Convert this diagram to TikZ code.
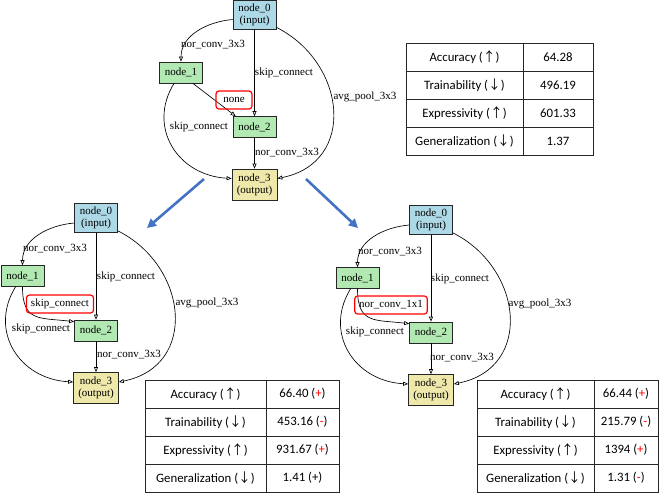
\documentclass[tikz,border=0pt]{standalone}
\usepackage{fontspec}
\setmainfont{Liberation Serif}
\newfontfamily\tabfont{Carlito}
\newfontfamily\cjk{Noto Sans CJK SC}
\usetikzlibrary{arrows.meta}

\definecolor{inblue}{HTML}{ADD8E6}
\definecolor{midgreen}{HTML}{B2E8B2}
\definecolor{outyellow}{HTML}{EEE8AA}
\definecolor{pushblue}{HTML}{4472C4}

\tikzset{
  cell/.style={draw=black!85, line width=0.7pt, inner sep=0pt, align=center, font=\fontsize{11}{12}\selectfont},
  innode/.style={cell, fill=inblue, minimum width=43pt, minimum height=29pt},
  midnode/.style={cell, fill=midgreen, minimum width=43pt, minimum height=21pt},
  outnode/.style={cell, fill=outyellow, minimum width=45pt, minimum height=31pt},
  op/.style={inner sep=1pt, font=\fontsize{11}{12}\selectfont},
  changed/.style={op, draw=red, line width=1.2pt, rounded corners=3pt, inner xsep=4.5pt, minimum height=18pt},
  edge/.style={line width=0.65pt, -{Triangle[open,length=5pt,width=4pt]}},
  push/.style={pushblue, line width=2.6pt, -{Triangle[length=9pt,width=9pt]}},
  score/.style={font=\tabfont\fontsize{12.8}{14}\selectfont, inner sep=0pt},
  grid line/.style={draw=black!85, line width=0.8pt}
}

% #1 name, #2 origin, #3 #4 column widths, #5-#8 values
\newcommand\scoretable[8]{%
  \begin{scope}[shift={#2}]
    \draw[grid line] (0,0) rectangle (#3+#4,112);
    \draw[grid line] (#3,0) -- (#3,112);
    \foreach \r in {28,56,84} \draw[grid line] (0,\r) -- (#3+#4,\r);
    \node[score] (#1acc) at (#3/2,14) {Accuracy ({\cjk ↑})};
    \node[score] (#1tra) at (#3/2,42) {Trainability ({\cjk ↓})};
    \node[score] (#1exp) at (#3/2,70) {Expressivity ({\cjk ↑})};
    \node[score] (#1gen) at (#3/2,98) {Generalization ({\cjk ↓})};
    \node[score] (#1accv) at (#3+#4/2,14) {#5};
    \node[score] (#1trav) at (#3+#4/2,42) {#6};
    \node[score] (#1expv) at (#3+#4/2,70) {#7};
    \node[score] (#1genv) at (#3+#4/2,98) {#8};
  \end{scope}}

\newcommand\up{(\textcolor{red}{+})}
\newcommand\down{(\textcolor{red}{-})}

\begin{document}
\begin{tikzpicture}[x=1pt,y=-1pt]
  \useasboundingbox (0,0) rectangle (660,496);

  % original cell
  \begin{scope}[shift={(254.5,14.5)}]
    \node[innode] (a0) at (0,0) {node\_0\\(input)};
    \node[midnode] (a1) at (-73.5,58) {node\_1};
    \node[midnode] (a2) at (0,112.5) {node\_2};
    \node[outnode] (a3) at (0,170) {node\_3\\(output)};
    \draw[edge] ([yshift=-5pt]a0.west) to[out=185,in=90] (a1.north);
    \draw[edge] (a0) -- (a2);
    \draw[edge] ([yshift=2pt]a0.south east) .. controls +(70,35) and +(80,-16) .. ([yshift=6pt]a3.east);
    \draw[edge] ([xshift=-10pt]a1.south east) -- ([xshift=3pt]a2.north west);
    \draw[edge] ([xshift=-7pt]a1.south) .. controls +(-27,44) and +(-54,-3) .. ([yshift=6pt]a3.west);
    \draw[edge] (a2) -- (a3);
    \node[op] (a01) at (-41.5,30.5) {nor\_conv\_3x3};
    \node[op] (a02) at (29.5,58.5) {skip\_connect};
    \node[op] (a03) at (110.5,82.5) {avg\_pool\_3x3};
    \node[changed, minimum width=36pt] (a12) at (-20.5,85.5) {none};
    \node[op] (a13) at (-55.5,112.5) {skip\_connect};
    \node[op] (a23) at (32.5,138.5) {nor\_conv\_3x3};
  \end{scope}

  % left mutation
  \begin{scope}[shift={(96,218)}]
    \node[innode] (b0) at (0,0) {node\_0\\(input)};
    \node[midnode] (b1) at (-73.5,58) {node\_1};
    \node[midnode] (b2) at (0,112.5) {node\_2};
    \node[outnode] (b3) at (0,170) {node\_3\\(output)};
    \draw[edge] ([yshift=-5pt]b0.west) to[out=185,in=90] (b1.north);
    \draw[edge] (b0) -- (b2);
    \draw[edge] ([yshift=2pt]b0.south east) .. controls +(70,35) and +(80,-16) .. ([yshift=6pt]b3.east);
    \draw[edge] (b1.south) .. controls +(0,35) and +(-35,-4) .. ([yshift=-2pt]b2.north west);
    \draw[edge] ([xshift=-7pt]b1.south) .. controls +(-27,44) and +(-54,-3) .. ([yshift=6pt]b3.west);
    \draw[edge] (b2) -- (b3);
    \node[op] (b01) at (-41,31) {nor\_conv\_3x3};
    \node[op] (b02) at (30,59) {skip\_connect};
    \node[op] (b03) at (111,85) {avg\_pool\_3x3};
    \node[changed] (b12) at (-36,86) {skip\_connect};
    \node[op] (b13) at (-55,111) {skip\_connect};
    \node[op] (b23) at (33,137) {nor\_conv\_3x3};
  \end{scope}

  % right mutation
  \begin{scope}[shift={(431,220)}]
    \node[innode] (c0) at (0,0) {node\_0\\(input)};
    \node[midnode] (c1) at (-73.5,58) {node\_1};
    \node[midnode] (c2) at (0,112.5) {node\_2};
    \node[outnode] (c3) at (0,170) {node\_3\\(output)};
    \draw[edge] ([yshift=-5pt]c0.west) to[out=185,in=90] (c1.north);
    \draw[edge] (c0) -- (c2);
    \draw[edge] ([yshift=2pt]c0.south east) .. controls +(70,35) and +(80,-16) .. ([yshift=6pt]c3.east);
    \draw[edge] (c1.south) .. controls +(0,35) and +(-35,-4) .. ([yshift=-2pt]c2.north west);
    \draw[edge] ([xshift=-7pt]c1.south) .. controls +(-27,44) and +(-54,-3) .. ([yshift=6pt]c3.west);
    \draw[edge] (c2) -- (c3);
    \node[op] (c01) at (-41,32) {nor\_conv\_3x3};
    \node[op] (c02) at (29,59) {skip\_connect};
    \node[op] (c03) at (109,84) {avg\_pool\_3x3};
    \node[changed] (c12) at (-40,85) {nor\_conv\_1x1};
    \node[op] (c13) at (-56,112) {skip\_connect};
    \node[op] (c23) at (31,138) {nor\_conv\_3x3};
  \end{scope}

  % mutation arrows
  \coordinate (pl0) at (204,179);
  \coordinate (pl1) at (147,228);
  \coordinate (pr0) at (306,179);
  \coordinate (pr1) at (358,228);
  \draw[push] (pl0) -- (pl1);
  \draw[push] (pr0) -- (pr1);

  \scoretable{t}{(406,43)}{117}{70}{64.28}{496.19}{601.33}{1.37}
  \scoretable{l}{(145,380)}{121}{73}{66.40 \up}{453.16 \down}{931.67 \up}{1.41 (+)}
  \scoretable{r}{(477,380)}{117}{64}{66.44 \up}{215.79 \down}{1394 \up}{1.31 \down}
\end{tikzpicture}
\end{document}
